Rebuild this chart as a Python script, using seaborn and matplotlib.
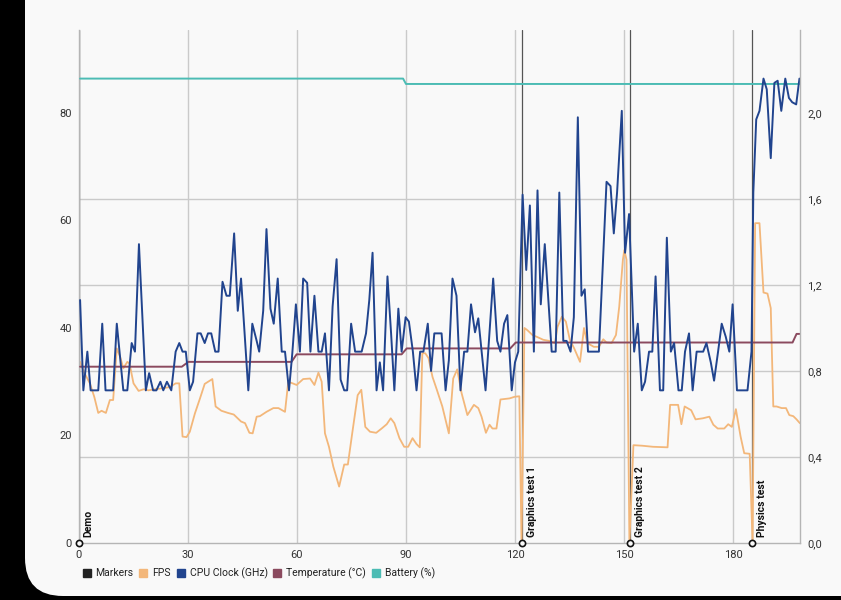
import numpy as np
import pandas as pd
import seaborn as sns
import matplotlib.pyplot as plt
from matplotlib import ticker
from matplotlib.patches import FancyBboxPatch
from matplotlib.lines import Line2D

sns.set_theme(style="white")
plt.rcParams['font.family'] = ['Roboto', 'DejaVu Sans']

# Data (time in s)
fps_time = [0.3, 1.5, 3.0, 4.2, 5.3, 6.2, 7.4, 8.5, 9.4, 10.4, 11.3, 12.2, 13.3, 13.9, 15.0, 16.4, 17.8, 19.1,
            21.0, 23.0, 25.0, 26.6, 27.6, 28.5, 29.6, 30.5, 31.9, 33.3, 34.6, 36.7, 37.6, 39.2, 41.0, 42.6, 44.6,
            45.7, 46.9, 47.8, 48.9, 49.8, 51.6, 53.5, 54.9, 56.7, 57.6, 58.8, 59.9, 61.7, 63.6, 64.8, 65.9, 66.8,
            67.7, 68.8, 70.0, 71.6, 73.0, 74.0, 75.2, 76.7, 77.7, 78.8, 80.1, 81.8, 83.3, 84.7, 85.8, 86.8, 88.2,
            89.5, 90.6, 91.8, 92.9, 93.8, 94.5, 95.3, 96.2, 97.3, 98.5, 100.0, 101.8, 103.0, 104.1, 105.3, 106.9,
            108.7, 109.9, 110.8, 112.0, 113.0, 113.8, 114.9, 116.0, 118.5, 119.9, 121.2, 121.8, 122.6, 123.4,
            124.8, 126.2, 127.8, 129.4, 131.0, 131.7, 132.9, 134.0, 135.1, 136.3, 137.9, 139.0, 139.9, 141.7,
            143.1, 144.3, 145.2, 146.6, 147.8, 148.7, 149.7, 150.1, 150.7, 151.5, 152.6, 155.0, 158.0, 162.0,
            162.7, 164.9, 165.8, 166.7, 168.5, 169.7, 171.7, 173.5, 174.6, 175.8, 177.6, 178.7, 179.7, 180.8,
            182.1, 183.1, 184.6, 185.4, 186.1, 187.3, 188.4, 189.5, 190.4, 191.1, 192.0, 193.4, 194.6, 195.5,
            196.6, 197.5, 198.4]
fps = [33.7, 31.6, 29.7, 27.2, 24.2, 24.6, 24.2, 26.6, 26.6, 36.2, 34.7, 32.5, 33.7, 33.4, 29.7, 28.3, 28.6, 28.4,
       28.6, 28.8, 29.0, 29.7, 29.7, 19.8, 19.7, 20.7, 24.1, 26.9, 29.6, 30.5, 25.4, 24.6, 24.2, 23.9, 22.6,
       22.3, 20.5, 20.4, 23.5, 23.6, 24.4, 25.1, 25.1, 24.4, 30.0, 29.7, 29.4, 30.5, 30.6, 29.4, 31.7, 30.0,
       20.4, 17.9, 14.2, 10.5, 14.6, 14.6, 20.4, 27.5, 28.5, 21.6, 20.7, 20.5, 21.3, 22.1, 23.2, 22.3, 19.5,
       17.9, 17.9, 19.5, 18.4, 17.8, 35.3, 35.3, 34.4, 30.9, 28.5, 25.4, 20.4, 30.6, 32.3, 27.9, 23.8,
       25.7, 25.1, 23.5, 20.5, 22.0, 21.3, 21.3, 26.7, 26.9, 27.2, 27.3, 0.0, 40.0, 39.6,
       38.7, 38.3, 37.8, 37.6, 37.2, 40.2, 42.1, 41.2, 37.8, 36.2, 33.7, 40.0, 37.2, 36.5,
       36.5, 37.9, 37.3, 37.2, 38.7, 44.0, 52.7, 54.5, 52.7, 0.0, 18.2, 18.1, 17.9, 17.8,
       25.7, 25.7, 22.1, 25.4, 24.7, 23.0, 23.2, 23.5, 22.0, 21.3, 21.3, 22.1, 21.6, 24.9,
       19.8, 16.7, 16.6, 0.0, 59.5, 59.5, 46.6, 46.4, 43.7, 25.4, 25.4, 25.1, 25.1, 23.8,
       23.6, 23.0, 22.3]

cpu_time = [0.3, 1.2, 2.3, 3.2, 5.3, 6.4, 7.3, 9.4, 10.4, 11.2, 12.2, 13.3, 14.5, 15.4, 16.5, 18.4, 19.3, 20.4,
            21.3, 22.4, 23.2, 24.2, 25.4, 26.6, 27.6, 28.5, 29.4, 30.5, 31.4, 32.6, 33.5, 34.6, 35.5, 36.4, 37.5,
            38.4, 39.5, 40.6, 41.5, 42.7, 43.7, 44.6, 46.6, 47.7, 48.9, 49.6, 50.7, 51.6, 52.7, 53.6, 54.7, 55.8,
            56.7, 57.8, 58.7, 59.7, 60.8, 61.7, 62.8, 63.7, 64.8, 65.9, 66.8, 67.7, 68.8, 69.8, 70.9, 72.0, 73.0,
            73.8, 74.9, 76.0, 77.8, 79.0, 79.9, 80.8, 81.9, 82.8, 83.7, 84.9, 85.9, 86.8, 87.9, 88.8, 89.9, 90.8,
            91.9, 92.9, 93.9, 94.8, 96.0, 96.9, 97.8, 99.8, 100.9, 101.8, 102.8, 103.9, 105.0, 106.0, 106.9,
            107.9, 109.0, 109.9, 111.9, 114.0, 115.1, 116.0, 117.0, 117.9, 119.1, 120.0, 120.9, 122.1, 123.1,
            124.1, 125.2, 126.2, 127.1, 128.2, 130.1, 131.2, 132.2, 133.3, 134.2, 135.3, 136.2, 137.3, 138.3,
            139.2, 140.1, 143.1, 145.2, 146.3, 147.2, 148.1, 149.4, 150.3, 151.4, 152.8, 153.8, 154.9, 155.8,
            156.9, 157.8, 158.7, 159.9, 160.8, 161.8, 162.9, 163.8, 165.0, 165.9, 166.8, 167.9, 168.9, 170.0,
            171.8, 172.7, 173.9, 174.8, 175.9, 176.9, 178.0, 179.0, 179.9, 181.1, 184.0, 185.1, 185.6, 186.4,
            187.3, 188.4, 189.3, 190.4, 191.4, 192.3, 193.3, 194.4, 195.4, 196.3, 197.4, 198.3]
cpu_ghz = [1.13, 0.71, 0.89, 0.71, 0.71, 1.02, 0.71, 0.71, 1.02, 0.88, 0.71, 0.71, 0.93, 0.89, 1.39, 0.71, 0.79, 0.71,
           0.71, 0.75, 0.71, 0.75, 0.71, 0.89, 0.93, 0.89, 0.89, 0.71, 0.75, 0.975, 0.975, 0.93, 0.975, 0.975, 0.89,
           0.89, 1.215, 1.15, 1.15, 1.44, 1.08, 1.23, 0.71, 1.02, 0.94, 0.89, 1.08, 1.46, 1.09, 1.02, 1.23, 0.89,
           0.89, 0.71, 0.88, 1.11, 0.89, 1.23, 1.21, 0.89, 1.15, 0.89, 0.89, 0.975, 0.71, 1.10, 1.32, 0.76, 0.71,
           0.71, 1.02, 0.89, 0.89, 0.975, 1.13, 1.35, 0.71, 0.84, 0.71, 1.24, 0.975, 0.71, 1.09, 0.89, 1.05, 1.03,
           0.89, 0.71, 0.89, 0.89, 1.02, 0.80, 0.975, 0.975, 0.71, 0.85, 1.23, 1.15, 0.71, 0.89, 0.89,
           1.11, 0.98, 1.045, 0.71, 1.23, 0.94, 0.89, 1.02, 1.06, 0.71, 0.84, 0.89, 1.62, 1.27,
           1.57, 0.89, 1.64, 1.11, 1.39, 0.89, 0.89, 1.63, 0.94, 0.94, 0.89, 1.05, 1.98, 1.15,
           1.18, 0.89, 0.89, 1.68, 1.66, 1.44, 1.63, 2.01, 1.35, 1.53, 0.89, 1.02, 0.71, 0.75,
           0.89, 0.89, 1.24, 0.71, 0.71, 1.42, 0.89, 0.93, 0.71, 0.71, 0.89, 0.975, 0.71, 0.89,
           0.89, 0.93, 0.84, 0.755, 0.89, 1.02, 0.96, 0.89, 1.11, 0.71, 0.71, 0.89, 1.63, 1.97,
           2.01, 2.16, 2.11, 1.79, 2.14, 2.15, 2.01, 2.16, 2.07, 2.05, 2.04, 2.16]

temp_time = [0.3, 28.3, 30.1, 58.5, 59.9, 88.8, 90.2, 118.7, 120.2, 196.4, 197.5, 198.3]
temp_c = [32.8, 32.8, 33.7, 33.7, 35.1, 35.1, 36.2, 36.2, 37.3, 37.3, 38.9, 38.9]

battery_time = [0.3, 89.2, 90.0, 198.3]
battery_pct = [86.4, 86.4, 85.4, 85.4]

marker_time = [0.0, 121.9, 151.7, 185.3]
marker_names = ["Demo", "Graphics test 1", "Graphics test 2", "Physics test"]

left_ticks = [0, 20, 40, 60, 80]
right_ticks = [0.0, 0.4, 0.8, 1.2, 1.6, 2.0]
x_ticks = [0, 30, 60, 90, 120, 150, 180]

PANEL = "#f9f9f9"
GRID = "#cacaca"
C_MARK = "#222222"
C_FPS = "#f3b77a"
C_CPU = "#21448e"
C_TEMP = "#8b4a5f"
C_BAT = "#4cbcb4"

fig = plt.figure(figsize=(8.41, 6.0), dpi=100, facecolor="black")

# rounded panel background
bg = fig.add_axes([0, 0, 1, 1])
bg.set_xlim(0, 841)
bg.set_ylim(600, 0)
bg.axis("off")
bg.add_patch(FancyBboxPatch((25, -60), 900, 656, boxstyle="round,pad=0,rounding_size=38",
                            fc=PANEL, ec="none"))

ax = fig.add_axes([79 / 841, 57 / 600, 721 / 841, 513 / 600])
ax.set_facecolor("none")
ax2 = ax.twinx()

ymax = 95.44
ax.set_xlim(0, 198.45)
ax.set_ylim(0, ymax)
ax2.set_ylim(0, ymax / 40)

# grid: vertical on x ticks, horizontal on right-axis ticks
ax.set_xticks(x_ticks)
ax.set_yticks(left_ticks)
ax.yaxis.set_minor_locator(ticker.FixedLocator([t * 40 for t in right_ticks[1:]]))
ax.grid(axis="x", which="major", color=GRID, lw=1.0)
ax.grid(axis="y", which="minor", color=GRID, lw=1.0)
ax.grid(axis="y", which="major", visible=False)
ax.set_axisbelow(True)

for t in marker_time:
    ax.axvline(t, color="#555555", lw=0.9, zorder=1.5)

sns.lineplot(x=fps_time, y=fps, ax=ax, color=C_FPS, lw=1.3, estimator=None, sort=False, zorder=2)
sns.lineplot(x=temp_time, y=temp_c, ax=ax, color=C_TEMP, lw=1.4, estimator=None, sort=False, zorder=3)
sns.lineplot(x=battery_time, y=battery_pct, ax=ax, color=C_BAT, lw=1.4, estimator=None, sort=False, zorder=3)
sns.lineplot(x=cpu_time, y=cpu_ghz, ax=ax2, color=C_CPU, lw=1.4, estimator=None, sort=False)

ax.scatter(marker_time, [0] * len(marker_time), s=20, facecolor=PANEL, edgecolor="#111111",
           linewidth=1.2, zorder=10, clip_on=False)
for t, name in zip(marker_time, marker_names):
    ax.annotate(name, xy=(t, 0), xytext=(3.5, 4), textcoords="offset points", rotation=90,
                ha="left", va="bottom", fontsize=7.5, fontweight="bold", color="#111111", zorder=11)

ax2.set_yticks(right_ticks)
ax2.yaxis.set_major_formatter(ticker.FuncFormatter(lambda v, p: f"{v:.1f}".replace(".", ",")))
ax2.grid(False)

for a in (ax, ax2):
    a.set_xlabel("")
    a.set_ylabel("")
    for s in a.spines.values():
        s.set_visible(False)
    a.tick_params(length=0, labelsize=8, colors="#333333", which="both")
ax.tick_params(axis="y", pad=5)
ax.tick_params(axis="x", pad=5)
ax2.tick_params(axis="y", pad=5)
ax.spines["left"].set_visible(True)
ax.spines["bottom"].set_visible(True)
ax2.spines["right"].set_visible(True)
for s in (ax.spines["left"], ax.spines["bottom"], ax2.spines["right"]):
    s.set_color("#b5b5b5")
    s.set_linewidth(1.0)

handles = [Line2D([], [], marker="s", linestyle="none", markersize=5.5, color=c)
           for c in (C_MARK, C_FPS, C_CPU, C_TEMP, C_BAT)]
labels = ["Markers", "FPS", "CPU Clock (GHz)", "Temperature (°C)", "Battery (%)"]
fig.legend(handles, labels, loc="center left", bbox_to_anchor=(73 / 841, 27 / 600), ncol=5,
           frameon=False, fontsize=7.5, handlelength=0.8, handletextpad=0.45, columnspacing=0.55,
           labelcolor="#222222")

fig.savefig("out.png", dpi=100, facecolor="black")
